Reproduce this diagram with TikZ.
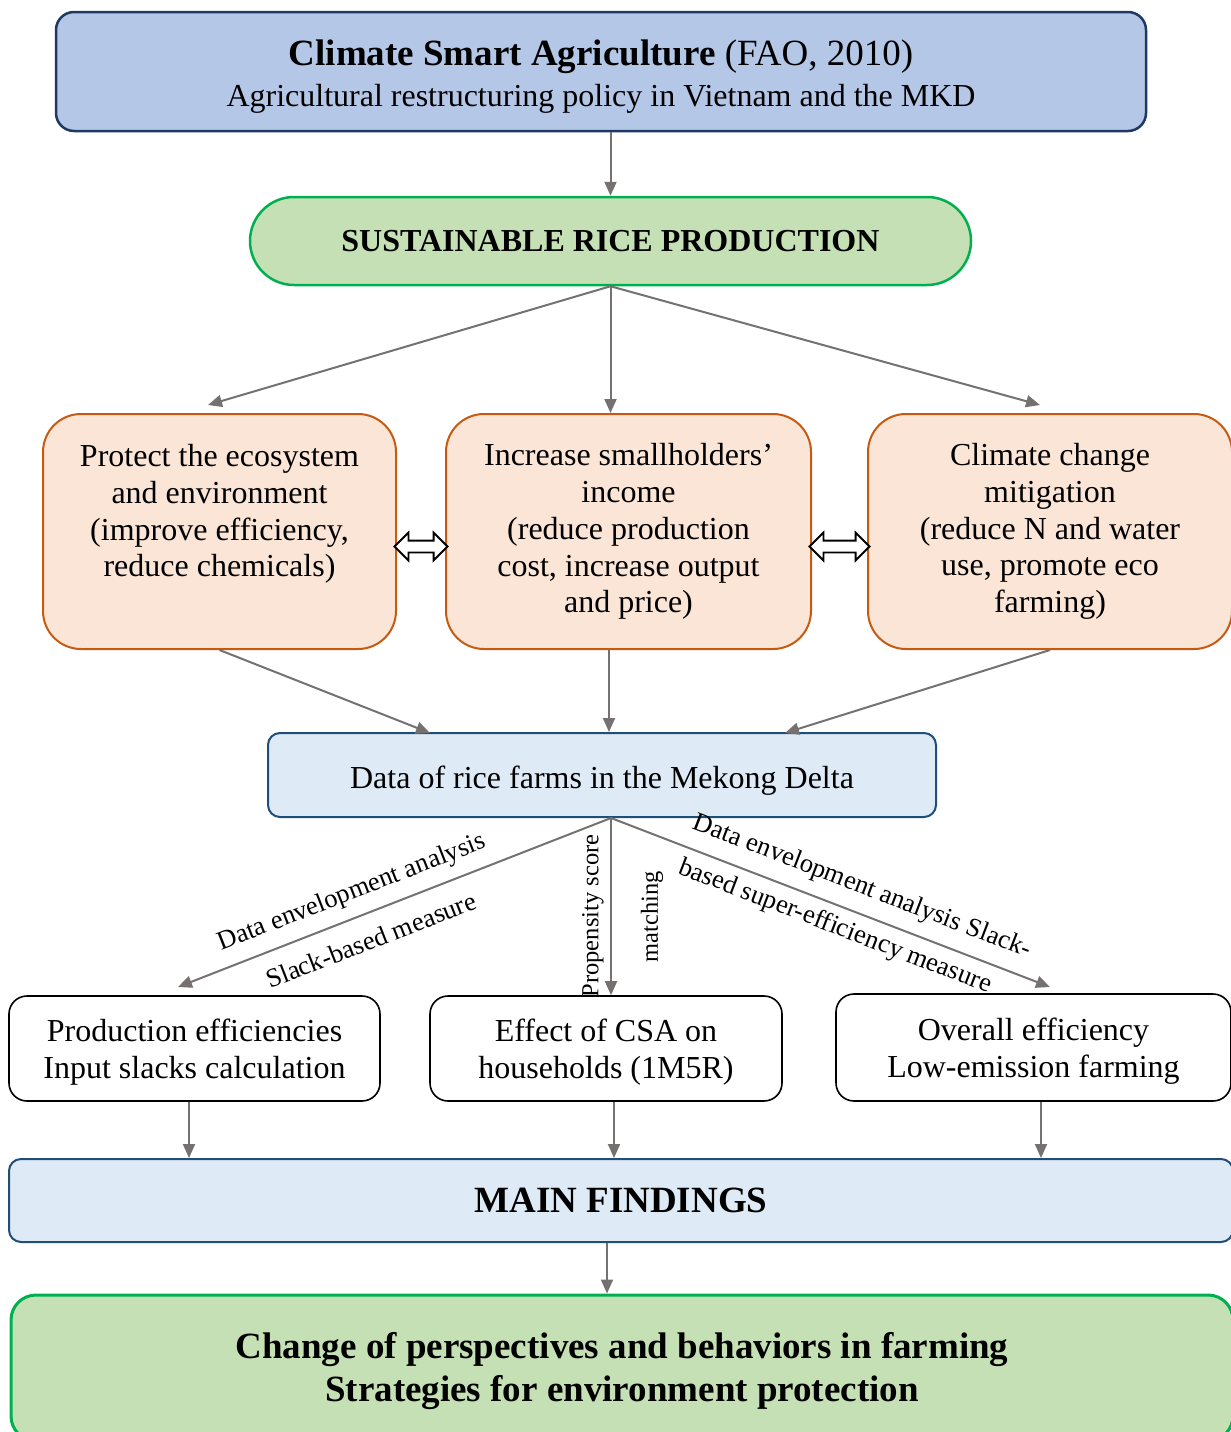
\documentclass[tikz,border=0pt]{standalone}
\usepackage{fontspec}
\setmainfont{Liberation Serif}
\usetikzlibrary{arrows.meta,shapes.arrows,calc}
\definecolor{topfill}{HTML}{B4C7E7}
\definecolor{topdraw}{HTML}{1F3864}
\definecolor{grfill}{HTML}{C5E0B4}
\definecolor{grdraw}{HTML}{00B050}
\definecolor{orfill}{HTML}{FBE5D6}
\definecolor{ordraw}{HTML}{C55A11}
\definecolor{bluefill}{HTML}{DEEBF7}
\definecolor{bluedraw}{HTML}{1F4E79}
\definecolor{arrgray}{HTML}{767171}
\begin{document}
\begin{tikzpicture}[x=1pt,y=-1pt,
  every node/.style={font=\fontsize{32}{36.8}\selectfont, align=center, inner sep=0pt},
  topbox/.style={draw=topdraw, fill=topfill, line width=2.5pt, rounded corners=18pt},
  stad/.style={draw=grdraw, fill=grfill, line width=2.5pt, rounded corners=44pt},
  obox/.style={draw=ordraw, fill=orfill, line width=2pt, rounded corners=38pt, minimum height=235pt},
  bbox/.style={draw=bluedraw, fill=bluefill, line width=2pt, rounded corners=12pt},
  wbox/.style={draw=black, fill=white, line width=1.6pt, rounded corners=18pt, minimum height=105pt},
  gbox/.style={draw=grdraw, fill=grfill, line width=3pt, rounded corners=25pt},
  darr/.style={double arrow, draw=black, fill=white, line width=1.8pt,
    double arrow head extend=8pt, double arrow head indent=0pt, inner sep=5pt},
  conn/.style={draw=arrgray, line width=2pt, -{Triangle[length=14pt,width=12pt]}},
  elab/.style={font=\fontsize{26.5}{30}\selectfont},
  vlab/.style={font=\fontsize{24.5}{28}\selectfont}]
\useasboundingbox (0,0) rectangle (1231,1432);

% nodes
\node[topbox, minimum width=1090pt, minimum height=119pt, font=\fontsize{32}{41}\selectfont] (top) at (601,71.5)
  {{\fontsize{37}{41}\selectfont\rule{0pt}{35pt}\textbf{Climate Smart Agriculture} (FAO, 2010)}\\Agricultural restructuring policy in Vietnam and the MKD};
\node[stad, minimum width=721pt, minimum height=88pt] (sus) at (610.5,241) {\textbf{SUSTAINABLE RICE PRODUCTION}};

\node[obox, minimum width=353pt] (p1) at (219.5,531.5)
  {Protect the ecosystem\\and environment\\(improve efficiency,\\reduce chemicals)\\[-6pt]\strut};
\node[obox, minimum width=365pt] (p2) at (628.5,531.5)
  {Increase smallholders’\\income\\(reduce production\\cost, increase output\\and price)};
\node[obox, minimum width=364pt] (p3) at (1050,531.5)
  {Climate change\\mitigation\\(reduce N and water\\use, promote eco\\farming)};

\node[darr, minimum height=53pt] (d1) at ($(p1.east)!0.5!(p2.west)+(0,15)$) {};
\node[darr, minimum height=60pt] (d2) at ($(p2.east)!0.5!(p3.west)+(0,15)$) {};

\node[bbox, minimum width=668pt, minimum height=84pt, text height=34pt] (data) at (602,775) {Data of rice farms in the Mekong Delta};

\node[wbox, minimum width=371pt] (w1) at (194.5,1048.5) {\rule{0pt}{30pt}Production efficiencies\\Input slacks calculation};
\node[wbox, minimum width=352pt] (w2) at (606,1048.5) {\rule{0pt}{30pt}Effect of CSA on\\households (1M5R)};
\node[wbox, minimum width=395pt, minimum height=107pt] (w3) at (1033.5,1047.5) {\rule{0pt}{30pt}Overall efficiency\\Low-emission farming};

\node[bbox, minimum width=1224pt, minimum height=83pt] (mf) at (621,1200.5) {\fontsize{37}{41}\selectfont\textbf{MAIN FINDINGS}};

\node[gbox, minimum width=1222pt, minimum height=146pt, font=\fontsize{37}{43}\selectfont\bfseries] (res) at (622,1368)
  {\rule{0pt}{32pt}Change of perspectives and behaviors in farming\\Strategies for environment protection};

% connector end points
\coordinate (a1) at (208,405);
\coordinate (a3) at (1040,405);
\coordinate (b1) at (430,733);
\coordinate (b3) at (785,733);
\coordinate (s2) at ($(p2.south)+(-19.5,0)$);
\coordinate (ds) at ($(data.south)+(9,0)$);
\coordinate (c1) at (178,987);
\coordinate (c3) at (1050,987);
\coordinate (e1) at ($(w1.south)+(-5.5,0)$);
\coordinate (e2) at ($(w2.south)+(8,0)$);
\coordinate (e3) at ($(w3.south)+(7.5,0)$);
\coordinate (f1) at ($(mf.south)+(-14,0)$);

% connectors
\draw[conn] (top.south -| sus.north) -- (sus.north);
\draw[conn] (sus.south) -- (a1);
\draw[conn] (sus.south) -- (sus.south |- p2.north);
\draw[conn] (sus.south) -- (a3);

\draw[conn] (p1.south) -- (b1);
\draw[conn] (s2) -- (s2 |- data.north);
\draw[conn] (p3.south) -- (b3);

\draw[conn] (ds) -- (c1);
\draw[conn] (ds) -- (ds |- w2.north);
\draw[conn] (ds) -- (c3);

\draw[conn] (e1) -- (e1 |- mf.north);
\draw[conn] (e2) -- (e2 |- mf.north);
\draw[conn] (e3) -- (e3 |- mf.north);
\draw[conn] (f1) -- (f1 |- res.north);

% connector labels
\node[elab, rotate=21.3] (l1) at (352,893) {Data envelopment analysis};
\node[elab, rotate=21.3] (l2) at (371,940) {Slack-based measure};
\node[vlab, rotate=90] (l3) at (593,916) {Propensity score};
\node[vlab, rotate=90] (l4) at (652,917) {matching};
\node[elab, rotate=-21.05] (l5) at (862,887) {Data envelopment analysis Slack-};
\node[elab, rotate=-21.05] (l6) at (835,927) {based super-efficiency measure};
\end{tikzpicture}
\end{document}
